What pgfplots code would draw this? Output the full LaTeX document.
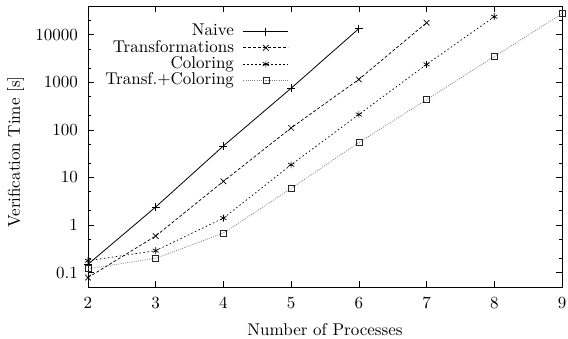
\documentclass[border=0pt]{standalone}
\usepackage{fontspec}
\setmainfont{lmroman10-regular.otf}
\usepackage{pgfplots}
\pgfplotsset{compat=1.18}
\newcommand{\bigfont}{\fontsize{17}{20}\selectfont}
\begin{document}
\begin{tikzpicture}[font=\bigfont]
\begin{axis}[
  scale only axis, width=474pt, height=281pt,
  ymode=log, xmin=2, xmax=9, ymin=0.05, ymax=40000,
  xtick={2,3,4,5,6,7,8,9},
  xticklabels={2,3,4,5,6,7,8,9},
  ytick={0.1,1,10,100,1000,10000},
  yticklabels={0.1,1,10,100,1000,10000},
  minor ytick={0.2,0.5,2,5,20,50,200,500,2000,5000,20000},
  tick align=inside, major tick length=6pt, minor tick length=3pt,
  tick style={black, line width=0.6pt},
  axis line style={line width=0.8pt},
  /pgf/number format/assume math mode=true,
  tick label style={font=\bigfont},
  label style={font=\bigfont},
  yticklabel style={anchor=east, inner sep=0pt, xshift=-10pt},
  xticklabel style={anchor=north, inner sep=0pt, yshift=-10pt},
  xlabel={Number of Processes},
  xlabel style={at={(axis description cs:0.5,-0.1708)}, anchor=base, inner sep=0pt},
  ylabel={Verification Time [s]},
  ylabel style={at={(axis description cs:-0.171,0.48)}, anchor=north, inner sep=0pt},
  legend cell align=right,
  legend plot pos=right,
  legend style={at={(axis description cs:0.424,0.937)}, anchor=north east, draw=none, fill=none,
    font=\bigfont, inner sep=0pt, row sep=1.1pt, column sep=9pt,
    nodes={inner sep=0pt, text height=11.9pt, text depth=3.3pt}},
  legend image code/.code={\draw[mark repeat=2,mark phase=2,#1] plot coordinates {(0pt,0pt) (22.5pt,0pt) (45pt,0pt)};},
]
\addplot[black, line width=0.8pt, mark=+, mark size=4pt, mark options={solid}] coordinates {
  (2,0.15) (3,2.4) (4,46) (5,750) (6,13400)};
\addlegendentry{Naive}
\addplot[black, line width=0.7pt, dash pattern=on 3pt off 2pt, mark=x, mark size=4pt, mark options={solid}] coordinates {
  (2,0.079) (3,0.59) (4,8.3) (5,110) (6,1150) (7,17800)};
\addlegendentry{Transformations}
\addplot[black, line width=0.7pt, dash pattern=on 1.5pt off 2.5pt, mark=asterisk, mark size=3.5pt, mark options={solid}] coordinates {
  (2,0.178) (3,0.29) (4,1.4) (5,18.5) (6,210) (7,2370) (8,23800)};
\addlegendentry{Coloring}
\addplot[black!50, line width=0.7pt, dash pattern=on 1pt off 1.2pt, mark=square, mark size=3pt, mark options={solid, black!85}] coordinates {
  (2,0.121) (3,0.2) (4,0.68) (5,5.9) (6,54) (7,430) (8,3470) (9,27500)};
\addlegendentry{Transf.+Coloring}
\coordinate (sw) at (rel axis cs:0,0);
\coordinate (ne) at (rel axis cs:1,1);
\end{axis}
\pgfresetboundingbox
\path ([shift={(-88pt,-51pt)}]sw) rectangle ([shift={(6pt,6pt)}]ne);
\end{tikzpicture}
\end{document}
